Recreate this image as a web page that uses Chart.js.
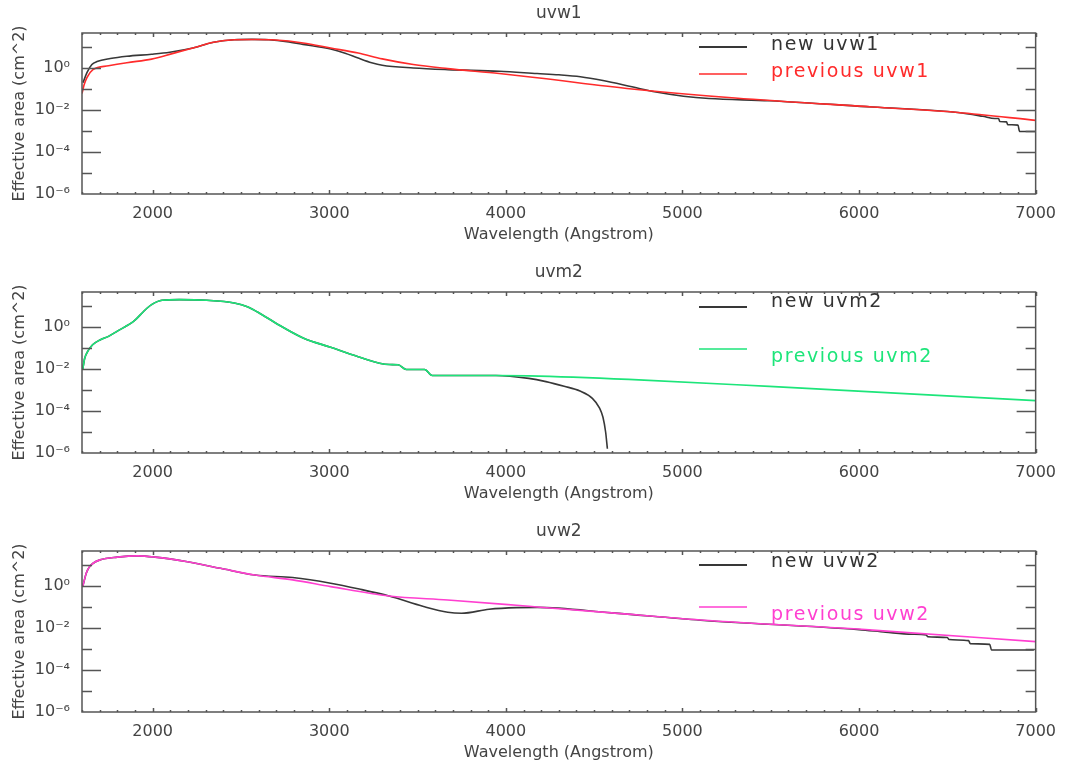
<!DOCTYPE html>
<html><head><meta charset="utf-8">
<script src="https://cdn.jsdelivr.net/npm/chart.js@4.4.1/dist/chart.umd.min.js"></script>
<style>
html,body{margin:0;padding:0;background:#fff;overflow:hidden;width:1066px;height:766px;}
canvas{position:absolute;left:0;}
</style></head><body>
<canvas id="c1" width="1066" height="259" style="top:0px"></canvas>
<canvas id="c2" width="1066" height="259" style="top:259px"></canvas>
<canvas id="c3" width="1066" height="259" style="top:518px"></canvas>
<script>
// ---- tick labels / categories ----
const xTickValues = [2000, 3000, 4000, 5000, 6000, 7000];
const yTickValues = [1e-6, 1e-4, 1e-2, 1];
const yTickLabels = ['10⁻⁶', '10⁻⁴', '10⁻²', '10⁰'];
const panelTitles = ['uvw1', 'uvm2', 'uvw2'];
const seriesNames = [['new uvw1', 'previous uvw1'], ['new uvm2', 'previous uvm2'], ['new uvw2', 'previous uvw2']];

// ---- uvw1 ----
const uvw1NewWave = [1606,1628,1656,1685,1760,1854,1994,2097,2228,2345,2462,2560,2657,2760,2852,3008,3090,3164,3240,3300,3476,3671,3963,4177,4300,4422,4550,4714,4850,5006,5150,5492,6076,6560,6700,6769,6790,6797,6835,6842,6900,6909,7000];
const uvw1NewArea = [0.20,0.60,1.45,2.0,2.8,3.6,4.5,5.6,8.9,16.6,21.9,22.9,21.9,17.8,13.2,7.9,5.0,2.95,1.78,1.35,1.0,0.83,0.69,0.54,0.47,0.38,0.25,0.126,0.071,0.045,0.035,0.0275,0.0138,0.0076,0.0050,0.0039,0.0039,0.0028,0.0027,0.0020,0.0019,0.00095,0.00095];
const uvw1PrevWave = [1600,1612,1628,1662,1750,1854,1994,2111,2228,2345,2462,2580,2696,2852,3008,3164,3300,3476,3671,3963,4177,4714,5298,6076,6560,7000];
const uvw1PrevArea = [0.060,0.158,0.35,0.83,1.26,1.78,2.63,4.8,8.9,16.6,21.9,22.4,21.4,15.5,8.9,5.1,2.7,1.45,0.93,0.54,0.34,0.10,0.037,0.0138,0.0076,0.0032];

// ---- uvm2 ----
const uvm2NewWave = [1604,1615,1630,1660,1702,1750,1800,1897,1950,1994,2053,2150,2306,2462,2540,2620,2696,2852,3008,3164,3340,3390,3436,3540,3583,3944,4130,4227,4330,4420,4490,4530,4550,4565,4575];
const uvm2NewArea = [0.0093,0.0316,0.063,0.141,0.24,0.355,0.63,2.0,5.6,11.5,18.6,20.0,18.6,13.8,8.9,3.8,1.55,0.30,0.107,0.038,0.0162,0.0158,0.0095,0.0095,0.0049,0.0049,0.00355,0.0025,0.0015,0.00089,0.0004,0.000141,0.00005,0.00001,0.0000016];
const uvm2PrevWave = [1604,1615,1630,1660,1702,1750,1800,1897,1950,1994,2053,2150,2306,2462,2540,2620,2696,2852,3008,3164,3340,3390,3436,3540,3583,3944,4130,4696,5492,7000];
const uvm2PrevArea = [0.0093,0.0316,0.063,0.141,0.24,0.355,0.63,2.0,5.6,11.5,18.6,20.0,18.6,13.8,8.9,3.8,1.55,0.30,0.107,0.038,0.0162,0.0158,0.0095,0.0095,0.0049,0.0049,0.0047,0.0032,0.00148,0.00031];

// ---- uvw2 ----
const uvw2NewWave = [1604,1614,1624,1640,1663,1702,1800,1916,2014,2189,2384,2579,2793,3008,3170,3339,3534,3671,3749,3905,4060,4177,4600,5103,6000,6150,6300,6380,6390,6500,6510,6620,6630,6740,6750,6990];
const uvw2NewArea = [0.93,2.0,4.0,7.6,12.0,17.4,23.4,26.9,23.4,14.5,6.9,3.3,2.5,1.35,0.71,0.33,0.105,0.056,0.050,0.078,0.093,0.095,0.052,0.0234,0.0083,0.0063,0.0050,0.0046,0.0038,0.0035,0.0028,0.0025,0.00178,0.00166,0.00089,0.00089];
const uvw2PrevWave = [1604,1614,1624,1640,1663,1702,1800,1916,2014,2189,2384,2579,2793,3008,3339,3671,4060,4177,4600,5103,6076,7000];
const uvw2PrevArea = [0.93,2.0,4.0,7.6,12.0,17.4,23.4,26.9,23.4,14.5,6.9,3.3,1.95,0.93,0.33,0.214,0.120,0.100,0.052,0.024,0.0079,0.00224];

const FONT = '"DejaVu Sans", "Liberation Sans", sans-serif';
const TEXT = '#444';

const pts = (w, a) => w.map((v, i) => ({x: v, y: a[i]}));

const framePlugin = {
  id: 'idlFrame',
  afterDatasetsDraw(chart) {
    const {ctx, chartArea: a, scales: {x, y}} = chart;
    ctx.save();
    ctx.strokeStyle = '#555';
    ctx.lineWidth = 1.5;
    ctx.strokeRect(a.left, a.top, a.right - a.left, a.bottom - a.top);
    ctx.beginPath();
    for (let v = 1600; v <= 7000; v += 100) {
      const px = Math.round(x.getPixelForValue(v)) + 0.5;
      const len = (v % 1000 === 0) ? 4 : 2;
      ctx.moveTo(px, a.bottom); ctx.lineTo(px, a.bottom - len);
      ctx.moveTo(px, a.top); ctx.lineTo(px, a.top + len);
    }
    for (let e = -5; e <= 1; e++) {
      const py = Math.round(y.getPixelForValue(Math.pow(10, e))) + 0.5;
      const len = (e % 2 === 0) ? 19 : 10;
      ctx.moveTo(a.left, py); ctx.lineTo(a.left + len, py);
      ctx.moveTo(a.right, py); ctx.lineTo(a.right - len, py);
    }
    ctx.stroke();
    ctx.restore();
  }
};

const legendPlugin = {
  id: 'idlLegend',
  afterDraw(chart, args, opts) {
    const {ctx, chartArea: a} = chart;
    ctx.save();
    ctx.font = '19px ' + FONT;
    try { ctx.letterSpacing = '1.6px'; } catch (e) {}
    ctx.textBaseline = 'alphabetic';
    ctx.textAlign = 'left';
    chart.data.datasets.forEach((ds, i) => {
      const r = opts.rows[i];
      ctx.strokeStyle = ds.borderColor;
      ctx.lineWidth = i === 0 ? 2.2 : 1.6;
      ctx.beginPath();
      ctx.moveTo(opts.lineX0, a.top + r.line);
      ctx.lineTo(opts.lineX1, a.top + r.line);
      ctx.stroke();
      ctx.fillStyle = i === 0 ? '#333' : ds.borderColor;
      ctx.fillText(ds.label, opts.textX, a.top + r.base);
    });
    ctx.restore();
  }
};

function makeChart(id, idx, newW, newA, prevW, prevA, prevColor, rows) {
  return new Chart(document.getElementById(id), {
    type: 'line',
    data: {
      datasets: [
        {label: seriesNames[idx][0], data: pts(newW, newA), borderColor: '#383838', borderWidth: 1.6, order: 1},
        {label: seriesNames[idx][1], data: pts(prevW, prevA), borderColor: prevColor, borderWidth: 1.6, order: 0}
      ]
    },
    options: {
      responsive: false,
      animation: false,
      devicePixelRatio: 1,
      layout: {padding: {left: 0, right: 28, top: 0, bottom: 0}},
      elements: {point: {radius: 0}, line: {cubicInterpolationMode: 'monotone', fill: false}},
      plugins: {
        legend: {display: false},
        tooltip: {enabled: false},
        title: {display: false},
        idlLegend: {lineX0: 699, lineX1: 747, textX: 771, rows: rows}
      },
      scales: {
        x: {
          type: 'linear', position: 'bottom', min: 1600, max: 7000,
          afterBuildTicks: s => { s.ticks = xTickValues.map(v => ({value: v})); },
          afterFit: s => { s.height = 65; },
          grid: {display: false, drawTicks: false, tickLength: 0},
          border: {display: false},
          ticks: {padding: 10, maxRotation: 0, autoSkip: false, color: TEXT, font: {family: FONT, size: 16},
                  callback: v => String(v)},
          title: {display: true, text: 'Wavelength (Angstrom)', color: TEXT, font: {family: FONT, size: 16},
                  padding: {top: 0, bottom: 15}}
        },
        x2: {
          type: 'linear', position: 'top', min: 1600, max: 7000,
          afterFit: s => { s.height = 33; },
          grid: {display: false, drawTicks: false},
          border: {display: false},
          ticks: {display: false},
          title: {display: true, text: panelTitles[idx], color: TEXT, font: {family: FONT, size: 17},
                  padding: {top: 3, bottom: 0}}
        },
        y: {
          type: 'logarithmic', position: 'left', min: 1e-6, max: 46,
          afterBuildTicks: s => { s.ticks = yTickValues.map(v => ({value: v})); },
          afterFit: s => { s.width = 82; },
          grid: {display: false, drawTicks: false, tickLength: 0},
          border: {display: false},
          ticks: {padding: 12, autoSkip: false, color: TEXT, font: {family: FONT, size: 16},
                  callback: (v, i) => yTickLabels[i]},
          title: {display: true, text: 'Effective area (cm^2)', color: TEXT, font: {family: FONT, size: 16},
                  padding: {top: 10, bottom: 0}}
        }
      }
    },
    plugins: [framePlugin, legendPlugin]
  });
}

makeChart('c1', 0, uvw1NewWave, uvw1NewArea, uvw1PrevWave, uvw1PrevArea, '#ff2b2b',
  [{line: 14, base: 17}, {line: 41, base: 44}]);
makeChart('c2', 1, uvm2NewWave, uvm2NewArea, uvm2PrevWave, uvm2PrevArea, '#1de57a',
  [{line: 15, base: 15}, {line: 57, base: 70}]);
makeChart('c3', 2, uvw2NewWave, uvw2NewArea, uvw2PrevWave, uvw2PrevArea, '#ff3fd0',
  [{line: 14, base: 16}, {line: 56, base: 69}]);
</script>
</body></html>
